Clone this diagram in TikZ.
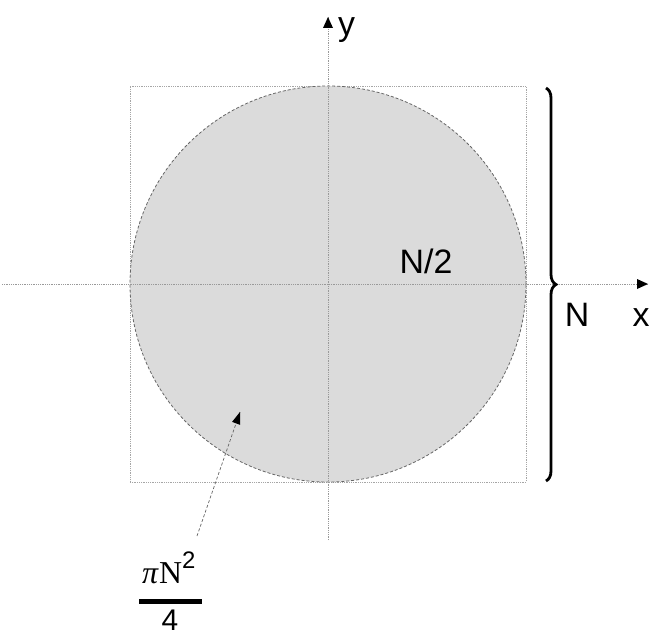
\documentclass[tikz,border=0pt]{standalone}
\usepackage{fontspec}
\setmainfont{Liberation Sans}
\newfontfamily\serifN{Liberation Serif}
\usetikzlibrary{calc,decorations.pathreplacing}
\begin{document}
\begin{tikzpicture}[x=1bp,y=-1bp,
  axisline/.style={gray!80,densely dotted,line width=0.8bp},
  lbl/.style={font=\fontsize{34}{36}\selectfont,inner sep=0pt,anchor=center},
  disc/.style={fill=black!14,draw=black!60,densely dashed,line width=0.8bp},
  frame/.style={draw=black!35,densely dotted,line width=0.8bp}]
\useasboundingbox (0,0) rectangle (652,639);
\coordinate (c) at (328,284);
\node[frame,minimum size=396bp,inner sep=0pt] (sq) at (c) {};
\node[disc,circle,minimum size=396bp,inner sep=0pt] (circ) at (c) {};
\coordinate (xs) at (2,284);
\coordinate (xe) at (648,284);
\coordinate (ys) at (328,540);
\coordinate (ye) at (328,17);
\draw[axisline] (xs) -- (xe);
\draw[axisline] (ys) -- (ye);
\fill[black] (xe) -- ++(-11,-5) -- ++(0,10) -- cycle;
\fill[black] (ye) -- ++(-5,11) -- ++(10,0) -- cycle;
\node[lbl,anchor=base west] (ylab) at (338,36) {y};
\node[lbl,anchor=base] (xlab) at (641,326) {x};
\node[lbl,anchor=base] (nlab) at (577,326) {N};
\node[lbl,anchor=base] (hlab) at (426,273) {N/2};
\coordinate (bt) at (546,88);
\coordinate (bb) at (546,481);
\draw[line width=2.8bp,decorate,decoration={brace,amplitude=10bp,raise=0pt}] (bt) -- (bb);
\node[inner sep=0pt,anchor=base west] (num) at (142,583) {\fontsize{32}{34}\selectfont{\serifN\itshape π}\kern1bp{\serifN N}\raisebox{15bp}{\fontsize{24}{26}\selectfont 2}};
\coordinate (fl) at (139,601);
\coordinate (fr) at (202,601);
\draw[line width=5bp] (fl) -- (fr);
\node[inner sep=0pt,anchor=base] (den) at (170,630) {\fontsize{30}{32}\selectfont 4};
\coordinate (as) at (197,536);
\coordinate (at) at (240,412);
\draw[black!60,densely dashed,line width=0.7bp] (as) -- (at);
\fill[black] (at) -- ($(at)!12bp!(as)+(-4,-1.5)$) -- ($(at)!12bp!(as)+(4,1.5)$) -- cycle;
\end{tikzpicture}
\end{document}
